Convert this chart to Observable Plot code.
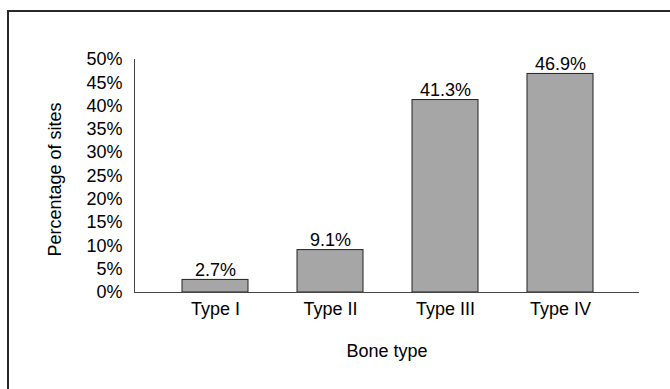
<!DOCTYPE html>
<html>
<head>
<meta charset="utf-8">
<script src="https://cdn.jsdelivr.net/npm/d3@7"></script>
<script src="https://cdn.jsdelivr.net/npm/@observablehq/plot@0.6"></script>
<style>
  html, body { margin: 0; padding: 0; background: #fff; overflow: hidden; }
  #wrap { position: relative; width: 670px; height: 389px; overflow: hidden; }
  #border { position: absolute; left: 7px; top: 10px; width: 700px; height: 420px; border: 2px solid #2a2a2a; box-sizing: border-box; pointer-events: none; }
  svg { display: block; }
</style>
</head>
<body>
<div id="wrap"><div id="border"></div></div>
<script>
const categories = ["Type I", "Type II", "Type III", "Type IV"];
const values = [2.7, 9.1, 41.3, 46.9];
const yTicks = [0, 5, 10, 15, 20, 25, 30, 35, 40, 45, 50];
const xTitle = "Bone type";
const yTitle = "Percentage of sites";

const data = categories.map((c, i) => ({category: c, value: values[i]}));
const fmt = d => d3.format(".1f")(d) + "%";
const FS = 18;

const chart = Plot.plot({
  width: 670,
  height: 389,
  marginLeft: 134,
  marginRight: 31,
  marginTop: 59,
  marginBottom: 97,
  style: {fontFamily: "Arial, 'Liberation Sans', sans-serif", fontSize: "18px", color: "#000", background: "transparent"},
  x: {type: "band", domain: categories, range: [157.4, 618.1], paddingInner: 0.427, paddingOuter: 0.2135, align: 0.5},
  y: {domain: [0, 50]},
  marks: [
    Plot.barY(data, {x: "category", y: "value", fill: "#a6a6a6", stroke: "#222", strokeWidth: 1}),
    Plot.text(data, {x: "category", y: "value", text: d => fmt(d.value), lineAnchor: "bottom", dy: -4, fill: "#000", fontSize: FS}),
    Plot.frame({anchor: "left", stroke: "#444"}),
    Plot.ruleY([0], {stroke: "#444"}),
    Plot.axisY(yTicks, {tickSize: 0, tickPadding: 12, tickFormat: d => d + "%", label: null, fill: "#000", fontSize: FS}),
    Plot.axisX({tickSize: 0, tickPadding: 10, label: null, fill: "#000", fontSize: FS}),
    Plot.text([xTitle], {frameAnchor: "bottom", textAnchor: "middle", lineAnchor: "top", dy: 52, fill: "#000", fontSize: FS}),
    Plot.text([yTitle], {frameAnchor: "left", textAnchor: "middle", rotate: -90, dx: -79, dy: 3.5, fill: "#000", fontSize: FS})
  ]
});
document.getElementById("wrap").prepend(chart);
</script>
</body>
</html>
